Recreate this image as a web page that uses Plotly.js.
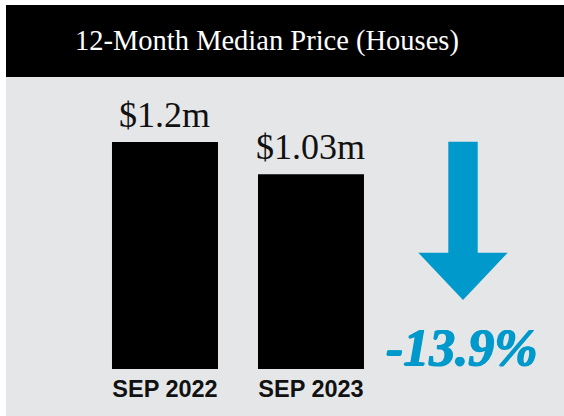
<!DOCTYPE html>
<html>
<head>
<meta charset="utf-8">
<script src="https://cdn.plot.ly/plotly-3.0.1.min.js"></script>
<style>html,body{margin:0;padding:0;background:#fff;}#chart{width:564px;height:416px;}</style>
</head>
<body>
<div id="chart"></div>
<script>
// ---- data ----
const categories = ["SEP 2022", "SEP 2023"];
const medianPrice = [1.2, 1.03];          // $ millions
const valueLabels = ["$1.2m", "$1.03m"];
const changeLabel = "-13.9%";
const chartTitle = "12-Month Median Price (Houses)";

// ---- layout helpers (pixel -> paper) ----
const W = 564, H = 416;
const M = {l: 6, r: 0, t: 77, b: 47};
const PW = W - M.l - M.r, PH = H - M.t - M.b;
const px = x => (x - M.l) / PW;
const py = y => (H - M.b - y) / PH;

const BLUE = "#0099cb";
const GRAY = "#e5e6e8";

const arrowPts = [
  [448.3, 141.7], [477.7, 141.7], [477.7, 252.7], [507.7, 252.7],
  [463, 300], [418.3, 252.7], [448.3, 252.7]
];
const arrowPath = arrowPts.map((p, i) => (i ? "L" : "M") + px(p[0]).toFixed(5) + "," + py(p[1]).toFixed(5)).join(" ") + " Z";

const trace = {
  type: "bar",
  x: categories,
  y: medianPrice,
  width: 0.726,
  marker: {color: "#000000", line: {width: 0}},
  hoverinfo: "skip"
};

const annotations = categories.map((c, i) => ({
  x: c, y: medianPrice[i], xref: "x", yref: "y",
  text: valueLabels[i], showarrow: false,
  xanchor: "center", yanchor: "bottom", yshift: 5,
  font: {family: "Liberation Serif", size: 36, color: "#111111"}
}));
annotations.push({
  x: px(266.5), y: py(41), xref: "paper", yref: "paper",
  text: chartTitle, showarrow: false, xanchor: "center", yanchor: "middle",
  font: {family: "Liberation Serif", size: 28.5, color: "#ffffff"}
});
annotations.push({
  x: px(462), y: py(347), xref: "paper", yref: "paper",
  text: "<b><i>" + changeLabel + "</i></b>", showarrow: false, xanchor: "center", yanchor: "middle",
  font: {family: "Liberation Serif", size: 52, color: BLUE,
         shadow: "0.8px 0 0 " + BLUE + ", -0.8px 0 0 " + BLUE + ", 0 0.5px 0 " + BLUE}
});

const layout = {
  width: W, height: H,
  margin: M,
  paper_bgcolor: "#ffffff",
  plot_bgcolor: "rgba(0,0,0,0)",
  showlegend: false,
  xaxis: {
    type: "category",
    range: [-1.089, 2.733],
    showgrid: false, zeroline: false, showline: false, ticks: "",
    ticklabelstandoff: 3,
    tickfont: {family: "Liberation Sans", size: 23.5, color: "#111111", weight: "bold"},
    fixedrange: true
  },
  yaxis: {
    range: [0, 1.5436],
    visible: false, fixedrange: true
  },
  shapes: [
    {type: "rect", xref: "paper", yref: "paper", x0: 0, x1: 1, y0: py(H), y1: 1, fillcolor: GRAY, line: {width: 0}, layer: "below"},
    {type: "rect", xref: "paper", yref: "paper", x0: 0, x1: 1, y0: 1, y1: py(5), fillcolor: "#000000", line: {width: 0}, layer: "below"},
    {type: "path", xref: "paper", yref: "paper", path: arrowPath, fillcolor: BLUE, line: {width: 0}, layer: "above"}
  ],
  annotations: annotations
};

Plotly.newPlot("chart", [trace], layout, {displayModeBar: false, staticPlot: true});
</script>
</body>
</html>
